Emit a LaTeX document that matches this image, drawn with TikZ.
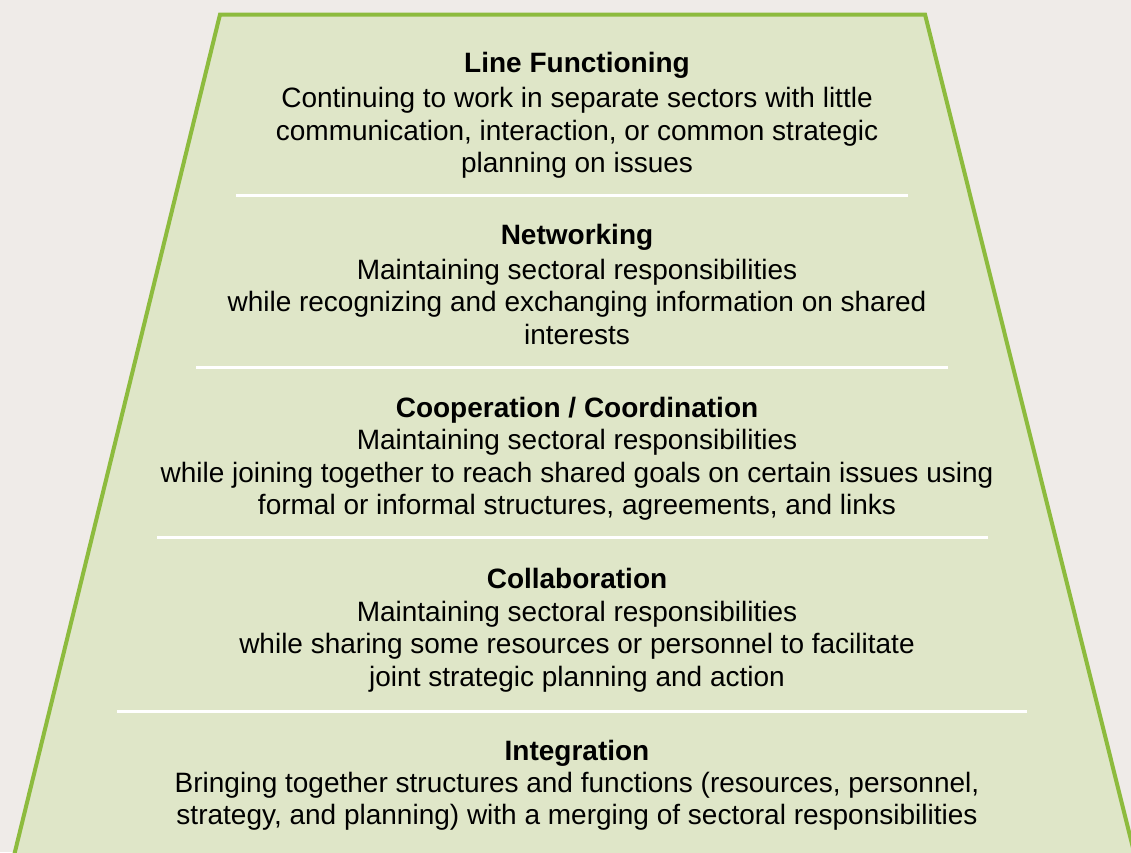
\documentclass[tikz,border=0pt]{standalone}
\usepackage{fontspec}
\setmainfont{Liberation Sans}
\definecolor{pagebg}{HTML}{EFEBE8}
\definecolor{tierfill}{HTML}{DFE6C8}
\definecolor{tieredge}{HTML}{8DBB3E}
\begin{document}
\begin{tikzpicture}[x=1pt,y=-1pt,
  tiertitle/.style={font=\fontsize{28}{32.5}\selectfont\bfseries, inner sep=0pt, anchor=base},
  % the base anchor of a multi-line body sits on its last line
  tierbody/.style={font=\fontsize{28}{32.5}\selectfont, align=center, inner sep=0pt, anchor=base},
  divider/.style={white, line width=3pt}]
  % page
  \fill[pagebg] (0,0) rectangle (1131,852);
  \useasboundingbox (0,0) rectangle (1131,852);
  % trapezoid
  \begin{scope}
    \clip (0,0) rectangle (1131,852);
    \filldraw[fill=tierfill, draw=tieredge, line width=4pt, line join=miter]
      (10.5,870) -- (220,14.5) -- (925,14.5) -- (1138.5,870);
  \end{scope}
  % dividers
  \coordinate (d1l) at (236,195);  \coordinate (d1r) at (908,195);
  \coordinate (d2l) at (196,367);  \coordinate (d2r) at (948,367);
  \coordinate (d3l) at (157,537);  \coordinate (d3r) at (988,537);
  \coordinate (d4l) at (117,711);  \coordinate (d4r) at (1027,711);
  \draw[divider] (d1l) -- (d1r);
  \draw[divider] (d2l) -- (d2r);
  \draw[divider] (d3l) -- (d3r);
  \draw[divider] (d4l) -- (d4r);
  % tiers
  \node[tiertitle] (t1) at (577,72) {Line Functioning};
  \node[tierbody] (b1) at (577,172.5) {Continuing to work in separate sectors with little\\communication, interaction, or common strategic\\planning on issues};
  \node[tiertitle] (t2) at (577,244) {Networking};
  \node[tierbody] (b2) at (577,344) {Maintaining sectoral responsibilities\\while recognizing and exchanging information on shared\\interests};
  \node[tiertitle] (t3) at (577,417) {Cooperation / Coordination};
  \node[tierbody] (b3) at (577,514.5) {Maintaining sectoral responsibilities\\while joining together to reach shared goals on certain issues using\\formal or informal structures, agreements, and links};
  \node[tiertitle] (t4) at (577,588) {Collaboration};
  \node[tierbody] (b4) at (577,686) {Maintaining sectoral responsibilities\\while sharing some resources or personnel to facilitate\\joint strategic planning and action};
  \node[tiertitle] (t5) at (577,760) {Integration};
  \node[tierbody] (b5) at (577,824.5) {Bringing together structures and functions (resources, personnel,\\strategy, and planning) with a merging of sectoral responsibilities};
\end{tikzpicture}
\end{document}
